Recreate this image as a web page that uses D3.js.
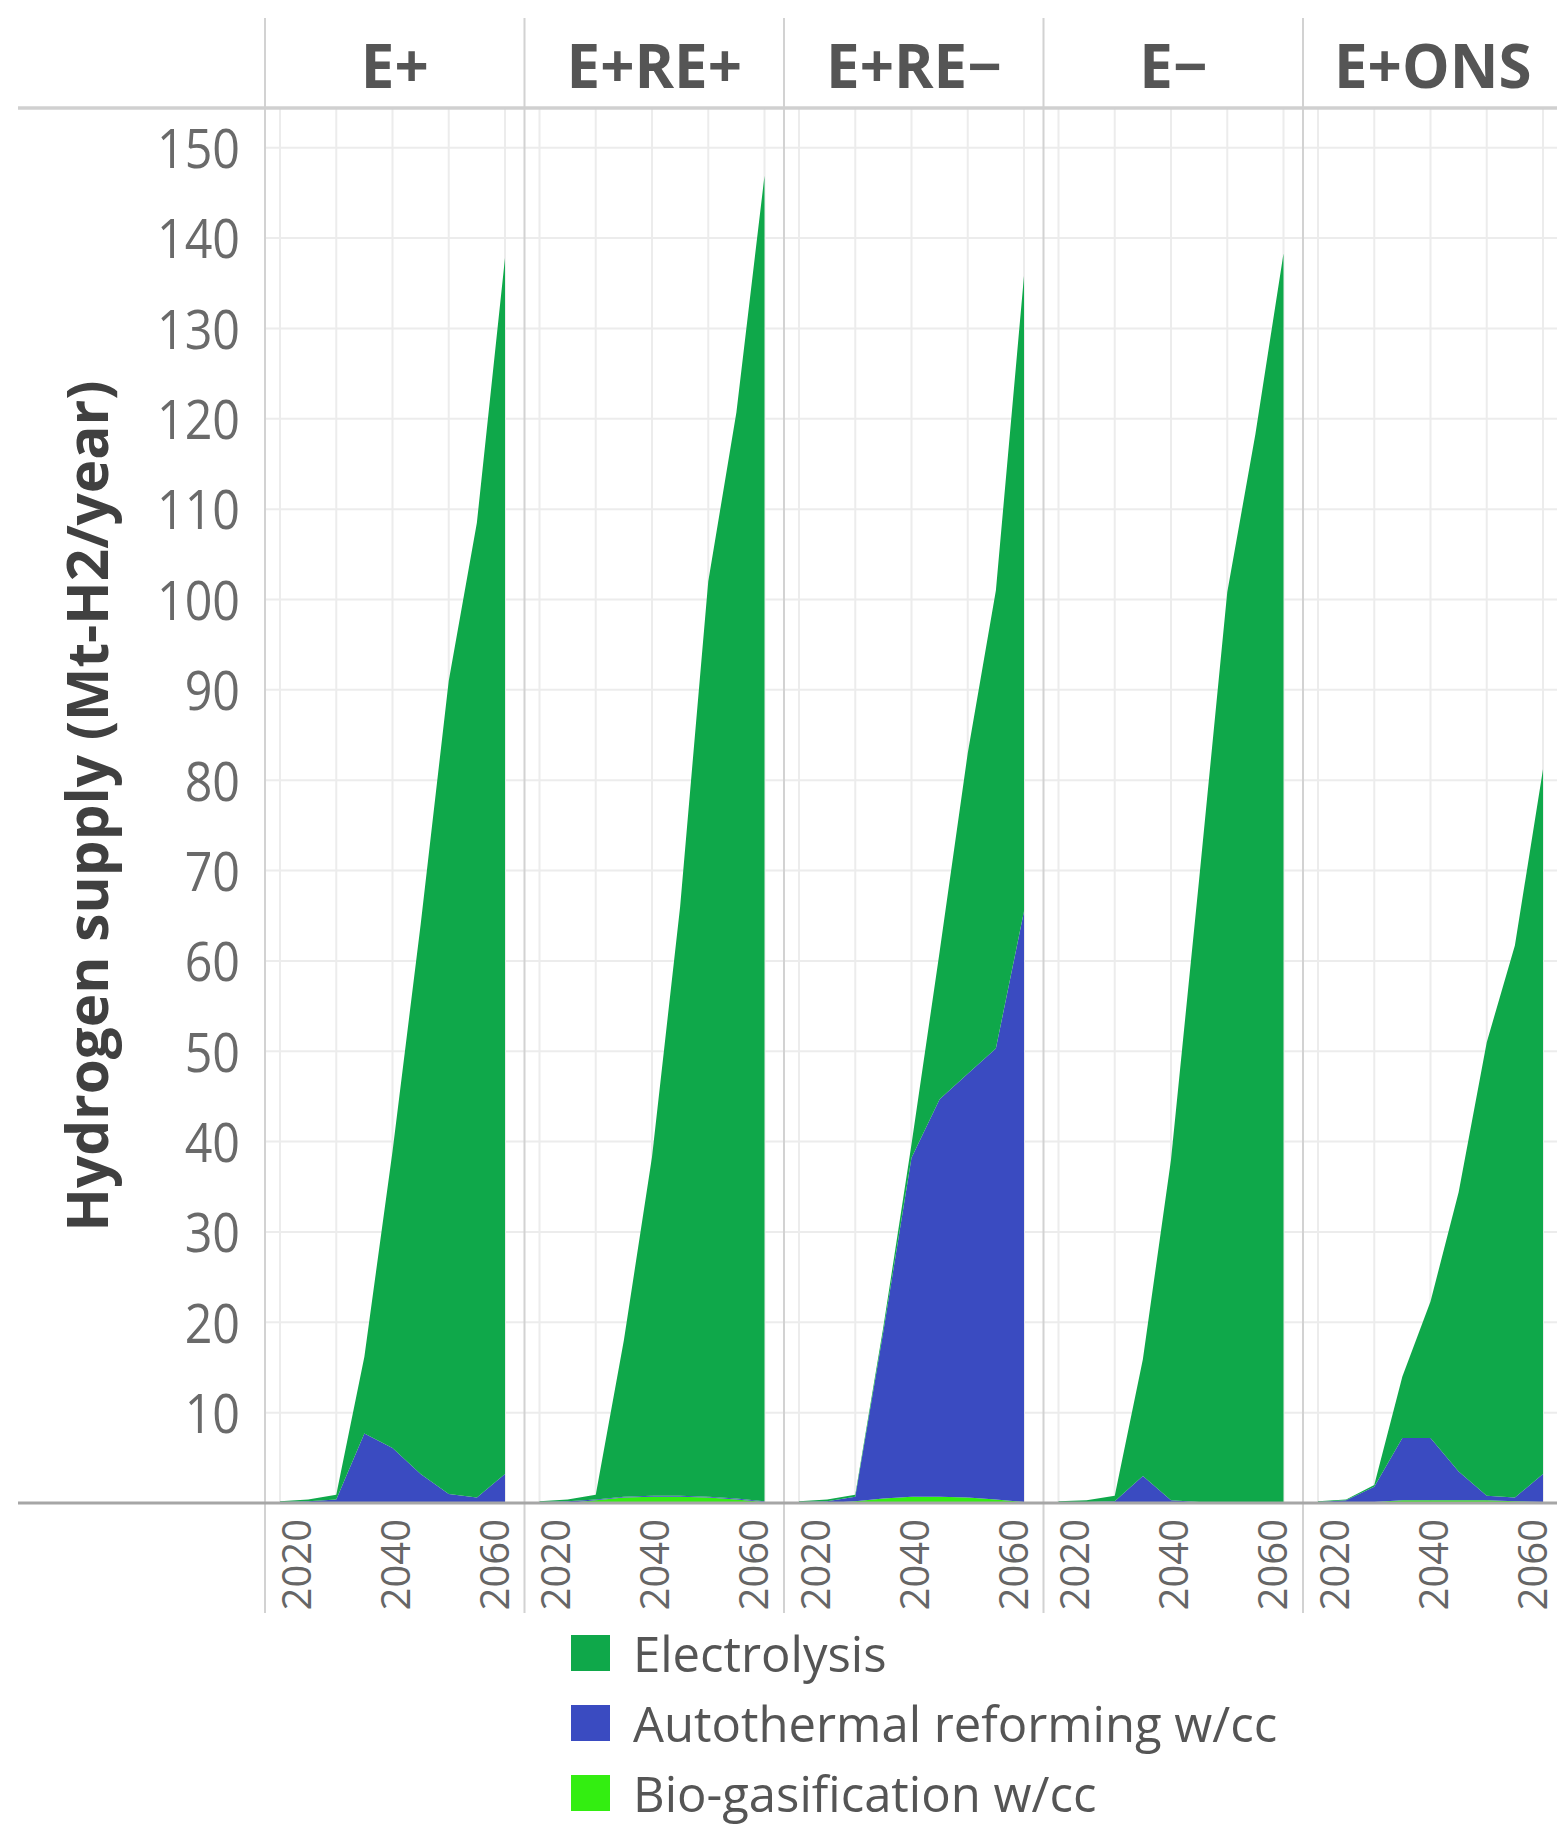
<!DOCTYPE html>
<html><head><meta charset="utf-8">
<script src="https://cdn.jsdelivr.net/npm/d3@7"></script>
<style>
body{margin:0;background:#fff}
svg{display:block}
text{font-family:"Open Sans","Noto Sans",sans-serif}
</style>
</head><body>
<svg id="c" width="1557" height="1840"></svg>
<script>
// ---------- data ----------
const years = [2020, 2025, 2030, 2035, 2040, 2045, 2050, 2055, 2060];
const scenarios = ["E+", "E+RE+", "E+RE−", "E−", "E+ONS"];
const seriesNames = ["Electrolysis", "Autothermal reforming w/cc", "Bio-gasification w/cc"];
const seriesColors = ["#0fa84a", "#3a4bc1", "#33ee11"];
const yTickValues = [10, 20, 30, 40, 50, 60, 70, 80, 90, 100, 110, 120, 130, 140, 150];
const xTickValues = [2020, 2040, 2060];
const xGridValues = [2020, 2030, 2040, 2050, 2060];

// one row per scenario (same order as `scenarios`), one value per year
const electrolysis = [
  [0.1, 0.2, 0.5, 8.5, 32.8, 60.8, 90.0, 107.9, 134.6],
  [0.1, 0.2, 0.5, 17.3, 37.5, 65.2, 101.3, 120.2, 146.7],
  [0.1, 0.2, 0.2, 0.5, 1.5, 16.3, 35.5, 50.7, 70.3],
  [0.1, 0.2, 0.6, 12.9, 37.7, 68.9, 100.7, 118.2, 138.2],
  [0.1, 0.1, 0.2, 6.8, 15.1, 30.9, 50.2, 61.1, 78.0]
];
const autothermal = [
  [0.1, 0.2, 0.3, 7.6, 6.0, 3.1, 0.9, 0.5, 3.1],
  [0.1, 0.2, 0.1, 0.1, 0.1, 0.1, 0.1, 0.1, 0.1],
  [0.1, 0.2, 0.5, 18.5, 37.5, 44.0, 46.9, 49.9, 65.4],
  [0.1, 0.1, 0.2, 3.0, 0.3, 0.1, 0.1, 0.1, 0.1],
  [0.1, 0.3, 1.7, 6.9, 6.9, 3.2, 0.5, 0.4, 3.1]
];
const bioGasification = [
  [0, 0, 0.1, 0.1, 0.1, 0.1, 0.1, 0.1, 0.1],
  [0, 0, 0.3, 0.6, 0.7, 0.7, 0.6, 0.4, 0.1],
  [0, 0, 0.2, 0.5, 0.7, 0.7, 0.6, 0.4, 0.1],
  [0, 0, 0, 0, 0, 0, 0, 0, 0],
  [0, 0, 0.1, 0.3, 0.3, 0.3, 0.3, 0.2, 0.1]
];

// ---------- layout ----------
const W = 1557, H = 1840;
const panelLeft0 = 265, panelW = 259.5;
const plotTop = 108, plotBottom = 1503;
const stripTop = 18, sepBottom = 1613, marginLeft = 18;

const svg = d3.select("#c");
svg.append("rect").attr("width", W).attr("height", H).attr("fill", "#fff");

const y = d3.scaleLinear().domain([0, 154.4]).range([plotBottom, plotTop]);
const keys = ["bio", "atr", "elec"];
const colorOf = {elec: seriesColors[0], atr: seriesColors[1], bio: seriesColors[2]};

scenarios.forEach((s, i) => {
  const x0 = panelLeft0 + i * panelW;
  const x = d3.scaleLinear().domain([2020, 2060]).range([x0 + 15, x0 + 240]);
  const xl = d3.scaleLinear().domain([2020, 2060]).range([x0 + 31, x0 + 229]);
  const g = svg.append("g");

  // grid
  g.selectAll("line.hg").data(yTickValues).join("line").attr("class", "hg")
    .attr("x1", x0).attr("x2", x0 + panelW)
    .attr("y1", d => y(d)).attr("y2", d => y(d))
    .attr("stroke", "#ececec").attr("stroke-width", 2);
  g.selectAll("line.vg").data(xGridValues).join("line").attr("class", "vg")
    .attr("x1", d => x(d)).attr("x2", d => x(d))
    .attr("y1", plotTop).attr("y2", plotBottom)
    .attr("stroke", "#ececec").attr("stroke-width", 2);

  // stacked areas
  const table = years.map((yr, j) => ({
    year: yr, bio: bioGasification[i][j], atr: autothermal[i][j], elec: electrolysis[i][j]
  }));
  const stacked = d3.stack().keys(keys)(table);
  const area = d3.area().x(d => x(d.data.year)).y0(d => y(d[0])).y1(d => y(d[1]));
  g.selectAll("path.a").data(stacked).join("path").attr("class", "a")
    .attr("d", area).attr("fill", d => colorOf[d.key]);

  // header label
  g.append("text").attr("x", x0 + panelW / 2).attr("y", 88)
    .attr("text-anchor", "middle").attr("font-size", 60).attr("font-weight", 700)
    .attr("fill", "#555").text(s);

  // x axis labels
  const ax = g.append("g").attr("transform", `translate(0,${plotBottom})`)
    .call(d3.axisBottom(xl).tickValues(xTickValues).tickFormat(d3.format("d")).tickSize(0));
  ax.select(".domain").remove();
  ax.selectAll("text")
    .attr("transform", "rotate(-90)")
    .attr("text-anchor", "end")
    .attr("x", -16).attr("y", 0).attr("dy", "0.35em")
    .attr("font-size", 40).attr("fill", "#666")
    .style("font-family", '"Open Sans", sans-serif');
});

// separators between panels
svg.append("g").selectAll("line").data(scenarios).join("line")
  .attr("x1", (d, i) => panelLeft0 + i * panelW).attr("x2", (d, i) => panelLeft0 + i * panelW)
  .attr("y1", stripTop).attr("y2", sepBottom)
  .attr("stroke", "#d2d2d2").attr("stroke-width", 2);

// header line and baseline
svg.append("line").attr("x1", marginLeft).attr("x2", W).attr("y1", plotTop).attr("y2", plotTop)
  .attr("stroke", "#d0d0d0").attr("stroke-width", 3.5);
svg.append("line").attr("x1", marginLeft).attr("x2", W).attr("y1", plotBottom).attr("y2", plotBottom)
  .attr("stroke", "#a6a6a6").attr("stroke-width", 3);

// y axis
const yAx = svg.append("g").attr("transform", "translate(242,0)")
  .call(d3.axisLeft(y).tickValues(yTickValues).tickSize(0).tickPadding(2));
yAx.select(".domain").remove();
yAx.selectAll("text")
  .attr("font-size", 55).attr("fill", "#6a6a6a").attr("dy", "0.36em")
  .style("font-family", '"Open Sans", sans-serif')
  .each(function () {
    const len = this.getComputedTextLength();
    d3.select(this).attr("textLength", len * 0.88).attr("lengthAdjust", "spacingAndGlyphs");
  });

// y title
svg.append("text")
  .attr("transform", "translate(88,806) rotate(-90)")
  .attr("text-anchor", "middle").attr("dy", "0.35em")
  .attr("font-size", 57).attr("font-weight", 700).attr("fill", "#404040")
  .attr("textLength", 851).attr("lengthAdjust", "spacingAndGlyphs")
  .text("Hydrogen supply (Mt-H2/year)");

// legend
const leg = svg.append("g").selectAll("g").data(seriesNames).join("g")
  .attr("transform", (d, k) => `translate(571,${1672 + k * 70})`);
leg.append("rect").attr("x", 0).attr("y", -37).attr("width", 39).attr("height", 36)
  .attr("fill", (d, k) => seriesColors[k]);
leg.append("text").attr("x", 62).attr("y", 0)
  .attr("font-size", 49).attr("fill", "#555").text(d => d);
</script>
</body></html>
